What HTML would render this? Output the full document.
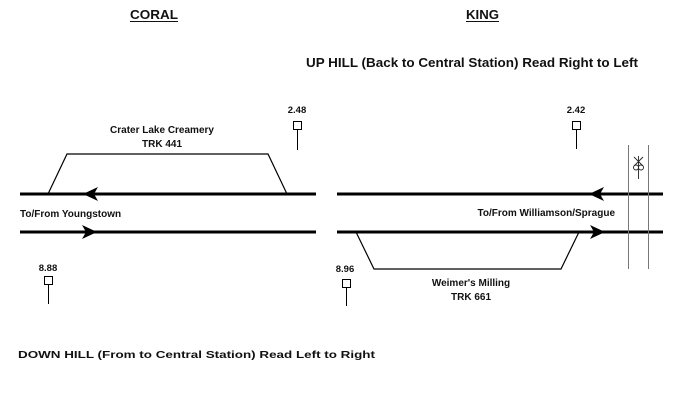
<!DOCTYPE html>
<html><head><meta charset="utf-8"><style>
html,body{margin:0;padding:0;background:#fff;}
svg{display:block;}
text{font-family:"Liberation Sans",Arial,sans-serif;font-weight:bold;fill:#111;}
</style></head><body>
<svg width="678" height="411" viewBox="0 0 678 411" xmlns="http://www.w3.org/2000/svg">
<text x="130" y="19" font-size="13" textLength="48" lengthAdjust="spacingAndGlyphs">CORAL</text>
<line x1="130" y1="21.5" x2="178" y2="21.5" stroke="#111" stroke-width="1"/>
<text x="466" y="19" font-size="13" textLength="33" lengthAdjust="spacingAndGlyphs">KING</text>
<line x1="466" y1="21.5" x2="499" y2="21.5" stroke="#111" stroke-width="1"/>
<text x="306" y="67" font-size="13" textLength="332" lengthAdjust="spacingAndGlyphs">UP HILL (Back to Central Station) Read Right to Left</text>
<text x="18" y="358" font-size="10" textLength="357" lengthAdjust="spacingAndGlyphs">DOWN HILL (From to Central Station) Read Left to Right</text>

<line x1="20" y1="194" x2="316" y2="194" stroke="#000" stroke-width="3"/>
<line x1="20" y1="232" x2="316" y2="232" stroke="#000" stroke-width="3"/>
<polygon points="83,194 98,187 94,194 98,201" fill="#000"/>
<polygon points="97,232 82,225 86,232 82,239" fill="#000"/>
<polyline points="48,194 67,154 268,154 287,194" fill="none" stroke="#000" stroke-width="1.2"/>
<text x="162" y="133" font-size="10" text-anchor="middle">Crater Lake Creamery</text>
<text x="162" y="147" font-size="10" text-anchor="middle">TRK 441</text>
<text x="20" y="217" font-size="10">To/From Youngstown</text>

<text x="297" y="113" font-size="9.5" text-anchor="middle">2.48</text>
<rect x="293.5" y="121.5" width="8" height="8" fill="#fff" stroke="#000" stroke-width="1"/>
<line x1="297.5" y1="130" x2="297.5" y2="150" stroke="#000" stroke-width="1"/>
<text x="48" y="271" font-size="9.5" text-anchor="middle">8.88</text>
<rect x="44.5" y="276.5" width="8" height="8" fill="#fff" stroke="#000" stroke-width="1"/>
<line x1="48.5" y1="285" x2="48.5" y2="304" stroke="#000" stroke-width="1"/>

<line x1="337" y1="194" x2="663" y2="194" stroke="#000" stroke-width="3"/>
<line x1="337" y1="232" x2="663" y2="232" stroke="#000" stroke-width="3"/>
<polygon points="589,194 604,187 600,194 604,201" fill="#000"/>
<polygon points="605,232 590,225 594,232 590,239" fill="#000"/>
<polyline points="356,232 374,269 561,269 579,232" fill="none" stroke="#000" stroke-width="1.2"/>
<text x="471" y="286" font-size="10" text-anchor="middle">Weimer's Milling</text>
<text x="471" y="300" font-size="10" text-anchor="middle">TRK 661</text>
<text x="615" y="216" font-size="10" text-anchor="end">To/From Williamson/Sprague</text>
<line x1="628.5" y1="145" x2="628.5" y2="269" stroke="#777" stroke-width="1"/>
<line x1="648.5" y1="145" x2="648.5" y2="269" stroke="#777" stroke-width="1"/>
<g stroke="#222" stroke-width="0.9" fill="none">
<line x1="638.5" y1="156" x2="638.5" y2="179"/>
<line x1="634" y1="157" x2="643" y2="166"/>
<line x1="643" y1="157" x2="634" y2="166"/>
<circle cx="636" cy="167.5" r="2.5"/>
<circle cx="641" cy="167.5" r="2.5"/>
</g>

<text x="576" y="113" font-size="9.5" text-anchor="middle">2.42</text>
<rect x="572.5" y="121.5" width="8" height="8" fill="#fff" stroke="#000" stroke-width="1"/>
<line x1="576.5" y1="130" x2="576.5" y2="149" stroke="#000" stroke-width="1"/>
<text x="345" y="272" font-size="9.5" text-anchor="middle">8.96</text>
<rect x="342.5" y="279.5" width="8" height="8" fill="#fff" stroke="#000" stroke-width="1"/>
<line x1="346.5" y1="288" x2="346.5" y2="306" stroke="#000" stroke-width="1"/>
</svg>
</body></html>
